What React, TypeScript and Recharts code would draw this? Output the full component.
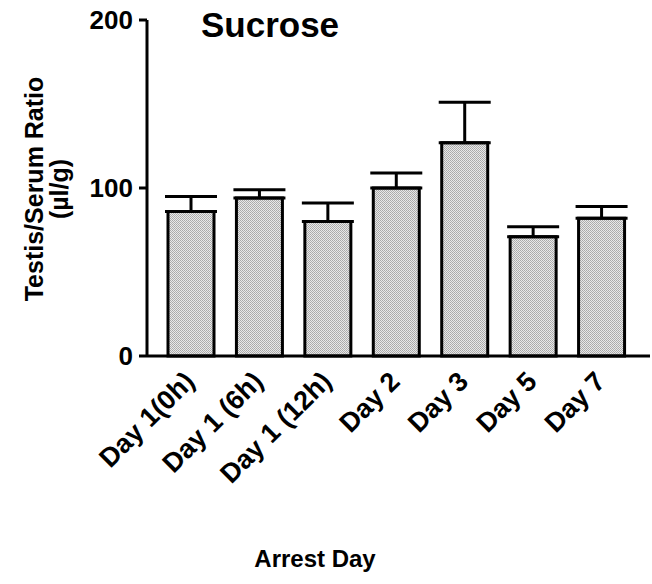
import React from 'react';
import {
  BarChart,
  Bar,
  XAxis,
  YAxis,
  ErrorBar,
  Customized,
} from 'recharts';

const days = ['Day 1(0h)', 'Day 1 (6h)', 'Day 1 (12h)', 'Day 2', 'Day 3', 'Day 5', 'Day 7'];
const ratio = [86, 94, 80, 100, 127, 71, 82];
const sem = [9, 5, 11, 9, 24, 6, 7];
const yTicks = [0, 100, 200];

const data = days.map((day, i) => ({ day, ratio: ratio[i], err: [0, sem[i]] }));

const font = 'Arial, "Liberation Sans", Helvetica, sans-serif';

const XTick = ({ x, y, payload }: any) => (
  <g transform={`translate(${x + 5},${y + 19})`}>
    <text
      x={0}
      y={0}
      transform="rotate(-45)"
      textAnchor="end"
      fontFamily={font}
      fontWeight="bold"
      fontSize={27}
      fill="#000"
    >
      {payload.value}
    </text>
  </g>
);

const Labels = () => (
  <g fontFamily={font} fontWeight="bold" fill="#000">
    <text x={270} y={37} textAnchor="middle" fontSize={35}>Sucrose</text>
    <text x={315} y={567} textAnchor="middle" fontSize={24}>Arrest Day</text>
    <text transform="translate(43,189) rotate(-90)" textAnchor="middle" fontSize={25}>
      Testis/Serum Ratio
    </text>
    <text transform="translate(68,189) rotate(-90)" textAnchor="middle" fontSize={25}>
      (µl/g)
    </text>
  </g>
);

const App = () => (
  <div style={{ position: 'absolute', left: 0, top: 0, background: '#fff' }}>
    <svg width={0} height={0} style={{ position: 'absolute' }}>
      <defs>
        <pattern id="stipple" width={2} height={2} patternUnits="userSpaceOnUse">
          <rect width={2} height={2} fill="#e8e8e8" />
          <rect width={1} height={1} fill="#a8a8a8" />
          <rect x={1} y={1} width={1} height={1} fill="#b0b0b0" />
        </pattern>
      </defs>
    </svg>
    <BarChart
      width={652}
      height={584}
      data={data}
      margin={{ top: 20, right: 2, left: 0, bottom: 78 }}
    >
      <XAxis
        dataKey="day"
        height={150}
        padding={{ left: 10, right: 14 }}
        axisLine={{ stroke: '#000', strokeWidth: 3 }}
        tickLine={false}
        tick={<XTick />}
        interval={0}
      />
      <YAxis
        width={147}
        domain={[0, 200]}
        ticks={yTicks}
        axisLine={{ stroke: '#000', strokeWidth: 3 }}
        tickLine={{ stroke: '#000', strokeWidth: 3 }}
        tickSize={8}
        tickMargin={6}
        tick={{ fill: '#000', fontSize: 26, fontWeight: 'bold', fontFamily: font }}
      />
      <Bar
        dataKey="ratio"
        barSize={46}
        fill="url(#stipple)"
        stroke="#000"
        strokeWidth={3}
        isAnimationActive={false}
      >
        <ErrorBar dataKey="err" direction="y" width={26} stroke="#000" strokeWidth={3} />
      </Bar>
      <Customized component={Labels} />
    </BarChart>
  </div>
);

export default App;
